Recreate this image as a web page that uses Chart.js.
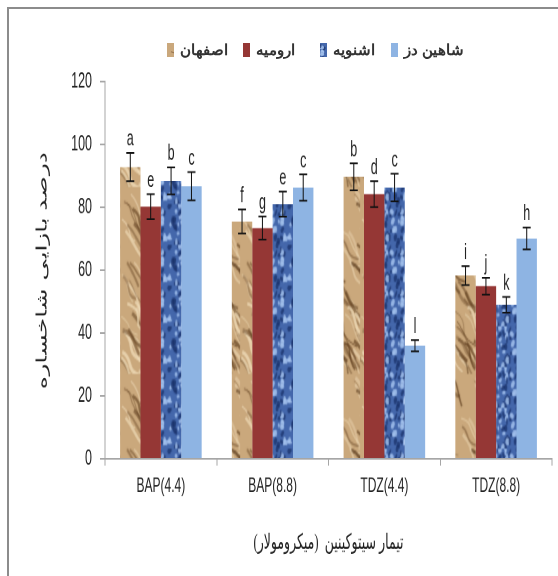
<!DOCTYPE html>
<html>
<head>
<meta charset="utf-8">
<script src="https://cdn.jsdelivr.net/npm/chart.js@4.4.1/dist/chart.umd.min.js"></script>
<style>
  html, body { margin: 0; padding: 0; background: #fff; overflow: hidden; }
  #wrap { position: relative; width: 558px; height: 576px; }
  #frame { position: absolute; left: 7px; top: 7px; width: 700px; height: 700px;
           border-left: 2px solid #8c8c8c; border-top: 2px solid #8c8c8c; }
  .item { position: absolute; top: 41px; display: flex; align-items: center; white-space: nowrap;
          font-family: "Liberation Sans", Arial, sans-serif; font-size: 15px; font-weight: bold; color: #333; }
  .box { width: 7px; height: 14px; margin-right: 6px; background-size: cover; }
  canvas { position: absolute; left: 0; top: 0; }
</style>
</head>
<body>
<div id="wrap">
  <div id="frame"></div>
  <!-- le graphique est dessiné étiré verticalement, comme l'original -->
  <canvas id="chart" width="558" height="339" style="width:558px;height:576px"></canvas>
</div>
<script>
const categories = ['BAP(4.4)', 'BAP(8.8)', 'TDZ(4.4)', 'TDZ(8.8)'];
const seriesNames = ['اصفهان', 'ارومیه', 'اشنویه', 'شاهین دز'];

const isfahan = [92.8, 75.5, 89.7, 58.3];
const urmia = [80.2, 73.4, 84.2, 54.9];
const oshnavieh = [88.4, 81.0, 86.3, 49.0];
const shahindej = [86.7, 86.3, 36.0, 70.1];

const isfahanErr = [4.5, 3.8, 4.3, 3.0];
const urmiaErr = [4.0, 3.7, 4.1, 2.7];
const oshnaviehErr = [4.3, 4.0, 4.4, 2.5];
const shahindejErr = [4.5, 4.2, 1.8, 3.5];

const isfahanLetters = ['a', 'f', 'b', 'i'];
const urmiaLetters = ['e', 'g', 'd', 'j'];
const oshnaviehLetters = ['b', 'e', 'c', 'k'];
const shahindejLetters = ['c', 'c', 'l', 'h'];

const yMin = 0, yMax = 120, yStep = 20;

const yTitle = 'درصد بازایی شاخساره';
const xTitle = 'تیمار سیتوکینین  (میکرومولار)';

// petite suite pseudo-aléatoire fixe, seulement pour les textures
let seed = 7;
function rnd() { seed = (seed * 16807) % 2147483647; return seed / 2147483647; }

function makeWood() {
    const c = document.createElement('canvas');
    c.width = 60; c.height = 110;
    const g = c.getContext('2d');
    g.fillStyle = '#caa87c';
    g.fillRect(0, 0, c.width, c.height);
    for (let i = 0; i < 80; i++) {
        const x = rnd() * 60, y = rnd() * 110;
        g.strokeStyle = rnd() < 0.55 ? 'rgba(95,62,30,' + (0.3 + rnd() * 0.5) + ')' : 'rgba(240,220,185,' + (0.4 + rnd() * 0.4) + ')';
        g.lineWidth = 0.6 + rnd() * 2;
        g.beginPath();
        g.moveTo(x, y);
        g.bezierCurveTo(x + 6 + rnd() * 8, y + 2 + rnd() * 6, x + rnd() * 10, y + 6 + rnd() * 7, x + 10 + rnd() * 10, y + 11 + rnd() * 8);
        g.stroke();
    }
    return c;
}

function makeDrops() {
    const c = document.createElement('canvas');
    c.width = 40; c.height = 24;
    const g = c.getContext('2d');
    g.fillStyle = '#4467ab';
    g.fillRect(0, 0, 40, 24);
    for (let i = 0; i < 60; i++) {
        const x = rnd() * 40, y = rnd() * 24;
        g.fillStyle = rnd() < 0.6 ? 'rgba(165,195,238,0.85)' : 'rgba(25,50,105,0.75)';
        g.beginPath();
        g.ellipse(x, y, 1 + rnd() * 1.8, 0.8 + rnd() * 1.4, rnd() * 3, 0, Math.PI * 2);
        g.fill();
    }
    return c;
}

const ctx = document.getElementById('chart').getContext('2d');
const woodCanvas = makeWood();
const dropsCanvas = makeDrops();
const wood = ctx.createPattern(woodCanvas, 'repeat');
const drops = ctx.createPattern(dropsCanvas, 'repeat');

const colors = [wood, '#953735', drops, '#8eb4e3'];
const swatches = ['url(' + woodCanvas.toDataURL() + ')', '#953735', 'url(' + dropsCanvas.toDataURL() + ')', '#8eb4e3'];
const values = [isfahan, urmia, oshnavieh, shahindej];
const errors = [isfahanErr, urmiaErr, oshnaviehErr, shahindejErr];
const letters = [isfahanLetters, urmiaLetters, oshnaviehLetters, shahindejLetters];

const sans = '"Liberation Sans", Arial, sans-serif';

// barres d'erreur + lettres
const errorBars = {
    id: 'errorBars',
    afterDatasetsDraw(chart) {
        const c = chart.ctx;
        const y = chart.scales.y;
        c.save();
        chart.data.datasets.forEach((ds, di) => {
            chart.getDatasetMeta(di).data.forEach((bar, i) => {
                const v = ds.data[i], e = ds.err[i];
                const top = y.getPixelForValue(v + e), bot = y.getPixelForValue(v - e);
                c.strokeStyle = '#111';
                c.lineWidth = 1;
                c.beginPath();
                c.moveTo(bar.x, top); c.lineTo(bar.x, bot);
                c.moveTo(bar.x - 4, top); c.lineTo(bar.x + 4, top);
                c.moveTo(bar.x - 4, bot); c.lineTo(bar.x + 4, bot);
                c.stroke();
                c.fillStyle = '#222';
                c.font = '12.5px ' + sans;
                c.textAlign = 'center';
                c.textBaseline = 'bottom';
                c.fillText(ds.letters[i], bar.x, top - 1.5);
            });
        });
        c.restore();
    }
};

new Chart(ctx, {
    type: 'bar',
    data: {
        labels: categories,
        datasets: seriesNames.map((n, k) => ({
            label: n,
            data: values[k],
            err: errors[k],
            letters: letters[k],
            backgroundColor: colors[k],
            borderWidth: 0,
            categoryPercentage: 0.73,
            barPercentage: 1
        }))
    },
    options: {
        responsive: false,
        animation: false,
        devicePixelRatio: 2,
        layout: { padding: { top: 48, left: 0, right: 6, bottom: 12 } },
        plugins: { legend: { display: false }, tooltip: { enabled: false } },
        scales: {
            y: {
                min: yMin, max: yMax,
                afterFit: s => { s.width = 105; },
                ticks: { stepSize: yStep, color: '#222', padding: 8, font: { family: sans, size: 12.5 } },
                grid: { display: true, drawOnChartArea: false, tickLength: 5, color: '#a6a6a6' },
                border: { color: '#a6a6a6', width: 1 },
                title: { display: true, text: yTitle, color: '#222', padding: { top: 34, bottom: 0 },
                         font: { family: sans, size: 14.5 } }
            },
            x: {
                afterFit: s => { s.height = 57; },
                ticks: { color: '#222', padding: 5, font: { family: sans, size: 12 } },
                grid: { display: true, drawOnChartArea: false, offset: true, tickLength: 4, color: '#a6a6a6' },
                border: { color: '#a6a6a6', width: 1 },
                title: { display: true, text: xTitle, color: '#222', padding: { top: 0, bottom: 0 },
                         font: { family: '"Liberation Serif", "DejaVu Sans", serif', size: 12.5 } }
            }
        }
    },
    plugins: [errorBars]
});

// légende en HTML, placée comme dans l'original
const legendX = [167, 243, 320, 391];
const wrap = document.getElementById('wrap');
seriesNames.forEach((n, k) => {
    const it = document.createElement('div');
    it.className = 'item';
    it.style.left = legendX[k] + 'px';
    const b = document.createElement('span');
    b.className = 'box';
    b.style.background = swatches[k];
    const t = document.createElement('span');
    t.textContent = n;
    it.appendChild(b); it.appendChild(t);
    wrap.appendChild(it);
});
</script>
</body>
</html>
